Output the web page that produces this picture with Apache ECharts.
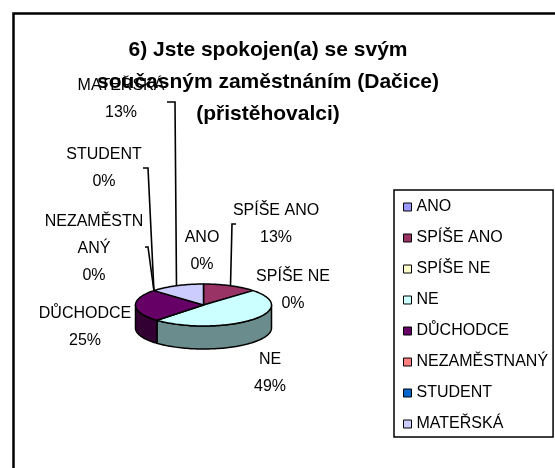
<!DOCTYPE html>
<html>
<head>
<meta charset="utf-8">
<script src="https://cdn.jsdelivr.net/npm/echarts@6/dist/echarts.min.js"></script>
<style>
  html, body { margin: 0; padding: 0; background: #fff; }
  #chart { width: 555px; height: 468px; }
</style>
</head>
<body>
<div id="chart"></div>
<script>
// Survey answers (share of respondents, %)
const categories = ['ANO', 'SPÍŠE ANO', 'SPÍŠE NE', 'NE', 'DŮCHODCE', 'NEZAMĚSTNANÝ', 'STUDENT', 'MATEŘSKÁ'];
const values = [0, 13, 0, 49, 25, 0, 0, 13];
// Wrapped text used for the slice labels
const sliceLabels = ['ANO', 'SPÍŠE ANO', 'SPÍŠE NE', 'NE', 'DŮCHODCE', 'NEZAMĚSTN\nANÝ', 'STUDENT', 'MATEŘSKÁ'];
const titleText = '6) Jste spokojen(a) se svým\nsoučasným zaměstnáním (Dačice)\n(přistěhovalci)';

// Classic office palette: top faces and shaded side walls
const topColors = ['#9999FF', '#993366', '#FFFFCC', '#CCFFFF', '#660066', '#FF8080', '#0066CC', '#CCCCFF'];
const sideColors = ['#4D4D80', '#4D1A33', '#808066', '#6A8C8C', '#330033', '#804040', '#003366', '#666680'];

// Tilted pie geometry
const PIE = { cx: 203.5, cy: 305, rx: 68, ry: 21, depth: 23 };
// Label block centres and leader elbows
const labelPos = [[202, 251.5], [276, 224.5], [293, 290], [270, 373], [85, 327.5], [94, 249], [104, 168], [121, 99]];
const leaderElbow = [null, [[236, 224], [232, 224]], null, null, null, [[145, 247], [148, 247]], [[143, 168], [148, 168]], [[167, 102], [175, 102]]];

const FONT = '"Liberation Sans", Arial, sans-serif';
const total = values.reduce((a, b) => a + b, 0);

function rimPoint(a, dy) {
  return [PIE.cx + PIE.rx * Math.sin(a), PIE.cy - PIE.ry * Math.cos(a) + (dy || 0)];
}

function arcPoints(a0, a1, dy) {
  const n = Math.max(2, Math.ceil((a1 - a0) / 0.03));
  const pts = [];
  for (let k = 0; k <= n; k++) pts.push(rimPoint(a0 + (a1 - a0) * k / n, dy));
  return pts;
}

function makeRenderer(i) {
  return function (params, api) {
    let start = 0;
    for (let k = 0; k < i; k++) start += values[k];
    const a0 = start / total * 2 * Math.PI;
    const a1 = (start + values[i]) / total * 2 * Math.PI;
    const children = [];
    const edge = { stroke: '#000', lineWidth: 1.5, lineJoin: 'round' };

    if (values[i] > 0) {
      // front-facing side wall
      const w0 = Math.max(a0, Math.PI / 2), w1 = Math.min(a1, Math.PI * 1.5);
      if (w1 > w0) {
        const topArc = arcPoints(w0, w1, 0);
        const botArc = arcPoints(w0, w1, PIE.depth).reverse();
        children.push({
          type: 'polygon',
          shape: { points: topArc.concat(botArc) },
          style: Object.assign({ fill: sideColors[i] }, edge)
        });
      }
      // top face
      children.push({
        type: 'polygon',
        shape: { points: [[PIE.cx, PIE.cy]].concat(arcPoints(a0, a1, 0)) },
        style: Object.assign({ fill: topColors[i] }, edge)
      });
    }

    // leader line to the slice's mid angle
    const mid = (a0 + a1) / 2;
    if (leaderElbow[i]) {
      children.push({
        type: 'polyline',
        shape: { points: leaderElbow[i].concat([rimPoint(mid, 0)]) },
        style: { stroke: '#000', lineWidth: 1.6, fill: null },
        z2: 5
      });
    }

    // category and percentage
    const pct = Math.round(values[i] / total * 100) + '%';
    children.push({
      type: 'text',
      x: labelPos[i][0],
      y: labelPos[i][1],
      style: {
        text: sliceLabels[i] + '\n' + pct,
        align: 'center',
        verticalAlign: 'middle',
        fontFamily: FONT,
        fontSize: 16,
        lineHeight: 27,
        fill: '#000'
      },
      z2: 6
    });

    return { type: 'group', children: children };
  };
}

const series = categories.map((name, i) => ({
  type: 'custom',
  name: name,
  coordinateSystem: 'none',
  itemStyle: { color: topColors[i] },
  data: [[values[i]]],
  renderItem: makeRenderer(i),
  silent: true
}));

const chart = echarts.init(document.getElementById('chart'), null, { renderer: 'canvas' });
chart.setOption({
  animation: false,
  backgroundColor: '#fff',
  graphic: [
    {
      type: 'rect',
      shape: { x: 13.5, y: 13.5, width: 700, height: 700 },
      style: { fill: null, stroke: '#000', lineWidth: 2.5 },
      z: 0
    },
    {
      type: 'text',
      x: 268,
      y: 34,
      style: {
        text: titleText,
        align: 'center',
        verticalAlign: 'top',
        fontFamily: FONT,
        fontSize: 21,
        fontWeight: 'bold',
        lineHeight: 32,
        fill: '#000'
      },
      z: 100
    }
  ],
  legend: {
    orient: 'vertical',
    left: 394,
    top: 190,
    padding: [9, 5, 5, 9],
    itemWidth: 8,
    itemHeight: 8,
    itemGap: 15,
    icon: 'rect',
    selectedMode: false,
    borderColor: '#000',
    borderWidth: 1.5,
    backgroundColor: '#fff',
    itemStyle: { borderColor: '#000', borderWidth: 1 },
    textStyle: { fontFamily: FONT, fontSize: 16, color: '#000', lineHeight: 16, padding: [0, 0, 0, 0] },
    data: categories
  },
  series: series
});
</script>
</body>
</html>
